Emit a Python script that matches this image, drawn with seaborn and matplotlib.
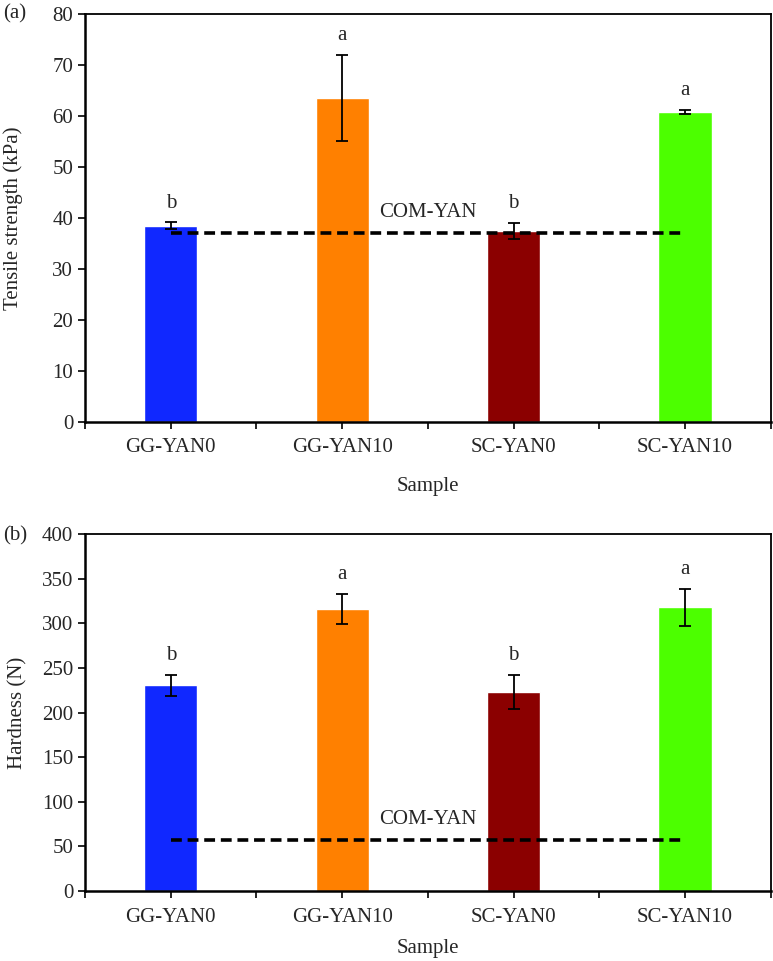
import matplotlib
matplotlib.use("Agg")
import matplotlib.pyplot as plt
import seaborn as sns
import pandas as pd

samples = ["GG-YAN0", "GG-YAN10", "SC-YAN0", "SC-YAN10"]
colors = ["#1028ff", "#ff8000", "#8b0000", "#4cff00"]

tensile = [38.5, 63.5, 37.4, 60.8]
tensile_err = [0.6, 8.5, 1.6, 0.45]
tensile_letters = ["b", "a", "b", "a"]
tensile_com = 37.1

hardness = [230.4, 316.0, 223.0, 318.2]
hardness_err = [12.0, 17.0, 19.6, 20.7]
hardness_letters = ["b", "a", "b", "a"]
hardness_com = 57.0

sns.set_theme(style="white")
plt.rcParams["font.family"] = ["Liberation Serif", "DejaVu Serif"]
plt.rcParams["font.size"] = 15

fig = plt.figure(figsize=(7.73, 9.61), dpi=100)
ax1 = fig.add_axes([0.110, 0.5612, 0.887, 0.4242])
ax2 = fig.add_axes([0.110, 0.0728, 0.887, 0.3715])


def panel(ax, values, errs, letters, com, ymax, step, ylabel, tag,
          ylab_x, xlab_pad, tag_dy):
    df = pd.DataFrame({"Sample": samples, "Value": values})
    sns.barplot(data=df, x="Sample", y="Value", hue="Sample", palette=colors,
                width=0.31, ax=ax, legend=False, errorbar=None, saturation=1)
    pos = list(range(len(samples)))
    ax.errorbar(pos, values, yerr=errs, fmt="none", ecolor="black",
                elinewidth=1.3, capsize=4, capthick=1.3, zorder=4)
    for p, v, e, lab in zip(pos, values, errs, letters):
        ax.annotate(lab, (p, v + e), xytext=(0, 7), textcoords="offset points",
                    ha="center", va="bottom", fontsize=15)
    ax.hlines(com, pos[0], pos[-1], colors="black", linestyles=(0, (3, 1.6)),
              linewidth=2.6, zorder=5)
    ax.annotate("COM-YAN", ((pos[0] + pos[-1]) / 2, com), xytext=(0, 8),
                textcoords="offset points", ha="center", va="bottom", fontsize=15)
    ax.set_xlim(-0.5, len(samples) - 0.5)
    ax.set_ylim(0, ymax)
    ax.set_yticks(range(0, ymax + 1, step))
    ax.set_xticks(pos)
    ax.set_xticklabels(samples)
    ax.set_xticks([i - 0.5 for i in range(len(samples) + 1)], minor=True)
    ax.tick_params(axis="both", which="major", direction="out", length=5,
                   width=1.2, labelsize=15, bottom=True, left=True, color="black")
    ax.tick_params(axis="x", which="major", pad=7)
    ax.tick_params(axis="x", which="minor", direction="out", length=5,
                   width=1.2, bottom=True, color="black")
    ax.set_xlabel("Sample", fontsize=15, labelpad=xlab_pad)
    ax.set_ylabel(ylabel, fontsize=15)
    ax.yaxis.set_label_coords(ylab_x, 0.5)
    for s in ax.spines.values():
        s.set_visible(True)
        s.set_color("black")
        s.set_linewidth(1.3)
    ax.spines["left"].set_linewidth(1.8)
    ax.spines["bottom"].set_linewidth(1.8)
    ax.grid(False)
    ax.text(-0.1196, 1.0 + tag_dy, tag, transform=ax.transAxes, ha="left",
            va="center", fontsize=15)


panel(ax1, tensile, tensile_err, tensile_letters, tensile_com, 80, 10,
      "Tensile strength (kPa)", "(a)", -0.091, 14, 0.0)
panel(ax2, hardness, hardness_err, hardness_letters, hardness_com, 400, 50,
      "Hardness (N)", "(b)", -0.084, 9, -0.006)

fig.savefig("out.png", dpi=100)
